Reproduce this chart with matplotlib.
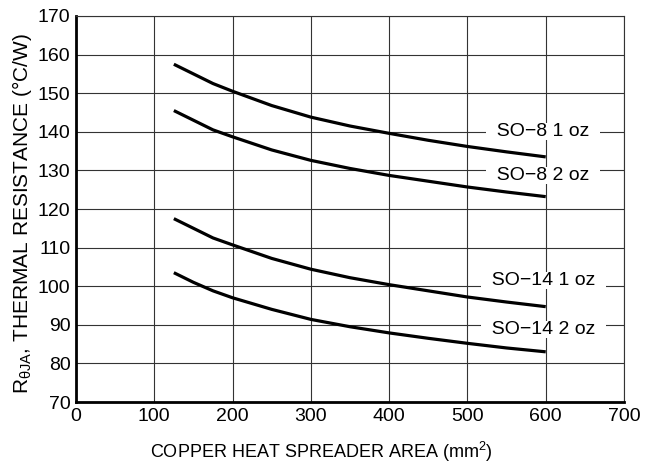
import matplotlib
matplotlib.use('Agg')
import matplotlib.pyplot as plt

plt.rcParams['font.family'] = ['Liberation Sans', 'DejaVu Sans']
plt.rcParams['mathtext.fontset'] = 'custom'
plt.rcParams['mathtext.rm'] = 'Liberation Sans'
plt.rcParams['mathtext.it'] = 'Liberation Sans'

# data
area = [125, 150, 175, 200, 250, 300, 350, 400, 450, 500, 550, 600]
so8_1oz = [157.5, 155, 152.5, 150.5, 146.8, 143.8, 141.5, 139.6, 137.8, 136.2, 134.8, 133.5]
so8_2oz = [145.5, 143, 140.5, 138.7, 135.3, 132.6, 130.5, 128.7, 127.2, 125.7, 124.4, 123.2]
so14_1oz = [117.5, 115, 112.5, 110.7, 107.2, 104.4, 102.2, 100.4, 98.8, 97.2, 95.9, 94.7]
so14_2oz = [103.5, 101, 98.8, 97, 94, 91.4, 89.5, 87.9, 86.5, 85.2, 84, 83]

labels = ['SO\u22128 1 oz', 'SO\u22128 2 oz', 'SO\u221214 1 oz', 'SO\u221214 2 oz']
label_x = [597, 597, 597, 597]
label_y = [140, 128.6, 101.6, 88.7]

xticks = list(range(0, 701, 100))
yticks = list(range(70, 171, 10))

fig = plt.figure(figsize=(6.53, 4.65), dpi=100)
ax = fig.add_axes([76/653, 63/465, 548/653, 386/465])

for y in [so8_1oz, so8_2oz, so14_1oz, so14_2oz]:
    ax.plot(area, y, color='black', linewidth=2.3, solid_capstyle='butt', zorder=3)

for t, lx, ly in zip(labels, label_x, label_y):
    ax.text(lx, ly, '  ' + t + '  ', ha='center', va='center', fontsize=14,
            bbox=dict(boxstyle='square,pad=0.0', facecolor='white', edgecolor='none'),
            zorder=4)

ax.set_xlim(0, 700)
ax.set_ylim(70, 170)
ax.set_xticks(xticks)
ax.set_yticks(yticks)
ax.grid(True, color='#333333', linewidth=0.8)
ax.set_axisbelow(True)
ax.tick_params(length=0, labelsize=14, pad=4)

for s in ['top', 'right']:
    ax.spines[s].set_linewidth(0.8)
    ax.spines[s].set_color('#333333')
for s in ['left', 'bottom']:
    ax.spines[s].set_linewidth(2.0)

ax.set_xlabel('COPPER HEAT SPREADER AREA (mm$^2$)', fontsize=13)
ax.set_ylabel(r'R$_{\theta\mathrm{JA}}$, THERMAL RESISTANCE (°C/W)', fontsize=15)
ax.xaxis.set_label_coords(0.447, -0.098)
ax.yaxis.set_label_coords(-0.077, 0.488)

fig.savefig('out.png', dpi=100)
